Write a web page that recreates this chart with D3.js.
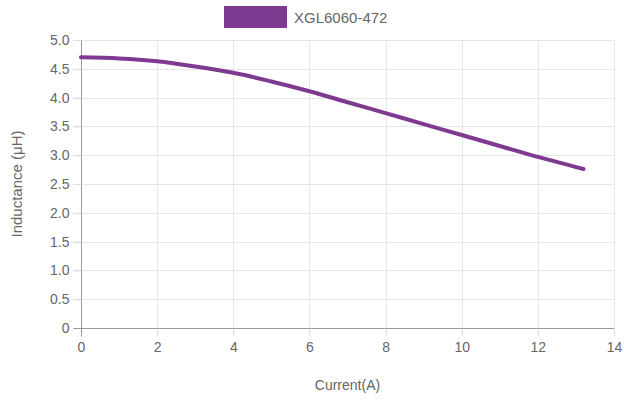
<!DOCTYPE html>
<html>
<head>
<meta charset="utf-8">
<script src="https://cdn.jsdelivr.net/npm/d3@7"></script>
<style>
  body { margin: 0; background: #fff; }
  svg text { font-family: "Liberation Sans", Arial, sans-serif; fill: #666; }
</style>
</head>
<body>
<svg id="chart" width="624" height="402"></svg>
<script>
var seriesName = "XGL6060-472";
var current = [0, 1, 2, 3, 4, 5, 6, 7, 8, 9, 10, 11, 12, 13.2];
var inductance = [4.70, 4.68, 4.63, 4.54, 4.43, 4.28, 4.11, 3.92, 3.73, 3.54, 3.35, 3.16, 2.97, 2.76];
var xTicks = [0, 2, 4, 6, 8, 10, 12, 14];
var yTicks = [0, 0.5, 1, 1.5, 2, 2.5, 3, 3.5, 4, 4.5, 5];

var color = "#7e3a91";
var plotLeft = 81, plotRight = 614, plotTop = 40, plotBottom = 328;

var svg = d3.select("#chart");

var x = d3.scaleLinear().domain([0, 14]).range([plotLeft, plotRight]);
var y = d3.scaleLinear().domain([0, 5]).range([plotBottom, plotTop]);

// grid
svg.append("g").selectAll("line")
  .data(xTicks.slice(1))
  .enter().append("line")
    .attr("x1", function(d) { return Math.round(x(d)) + 0.5; })
    .attr("x2", function(d) { return Math.round(x(d)) + 0.5; })
    .attr("y1", plotTop).attr("y2", plotBottom + 8)
    .attr("stroke", "#e6e6e6");

svg.append("g").selectAll("line")
  .data(yTicks.slice(1))
  .enter().append("line")
    .attr("x1", plotLeft - 8).attr("x2", plotRight)
    .attr("y1", function(d) { return Math.round(y(d)) + 0.5; })
    .attr("y2", function(d) { return Math.round(y(d)) + 0.5; })
    .attr("stroke", "#e6e6e6");

// axes
var yAxis = svg.append("g")
  .attr("transform", "translate(" + (plotLeft + 0.5) + ",0)")
  .call(d3.axisLeft(y).tickValues(yTicks).tickSize(8).tickPadding(4)
    .tickFormat(function(d) { return d === 0 ? "0" : d3.format(".1f")(d); }));
var xAxis = svg.append("g")
  .attr("transform", "translate(0," + (plotBottom + 0.5) + ")")
  .call(d3.axisBottom(x).tickValues(xTicks).tickSize(8).tickPadding(6));

[yAxis, xAxis].forEach(function(a) {
  a.select(".domain").attr("stroke", "#999");
  a.selectAll(".tick line").attr("stroke", "#ddd");
  a.selectAll(".tick text").style("font-size", "14px").attr("fill", "#666");
});
yAxis.selectAll(".tick line").filter(function(d) { return d === 0; }).attr("stroke", "#999");
xAxis.selectAll(".tick line").filter(function(d) { return d === 0; }).attr("stroke", "#999");
xAxis.select(".domain").attr("d", "M" + plotLeft + ",0H" + plotRight);
yAxis.select(".domain").attr("d", "M0," + plotTop + "V" + plotBottom);

// line
var line = d3.line()
  .x(function(d, i) { return x(current[i]); })
  .y(function(d) { return y(d); })
  .curve(d3.curveCatmullRom.alpha(0.5));

svg.append("path")
  .datum(inductance)
  .attr("d", line)
  .attr("fill", "none")
  .attr("stroke", color)
  .attr("stroke-width", 4)
  .attr("stroke-linecap", "round");

// legend
svg.append("rect")
  .attr("x", 224).attr("y", 6).attr("width", 63).attr("height", 22)
  .attr("fill", color);
svg.append("text")
  .attr("x", 294).attr("y", 23)
  .style("font-size", "15px")
  .text(seriesName);

// axis titles
svg.append("text")
  .attr("transform", "translate(22," + ((plotTop + plotBottom) / 2) + ") rotate(-90)")
  .attr("text-anchor", "middle")
  .style("font-size", "15px")
  .text("Inductance (μH)");
svg.append("text")
  .attr("x", (plotLeft + plotRight) / 2)
  .attr("y", 390)
  .attr("text-anchor", "middle")
  .style("font-size", "14px")
  .text("Current(A)");
</script>
</body>
</html>
